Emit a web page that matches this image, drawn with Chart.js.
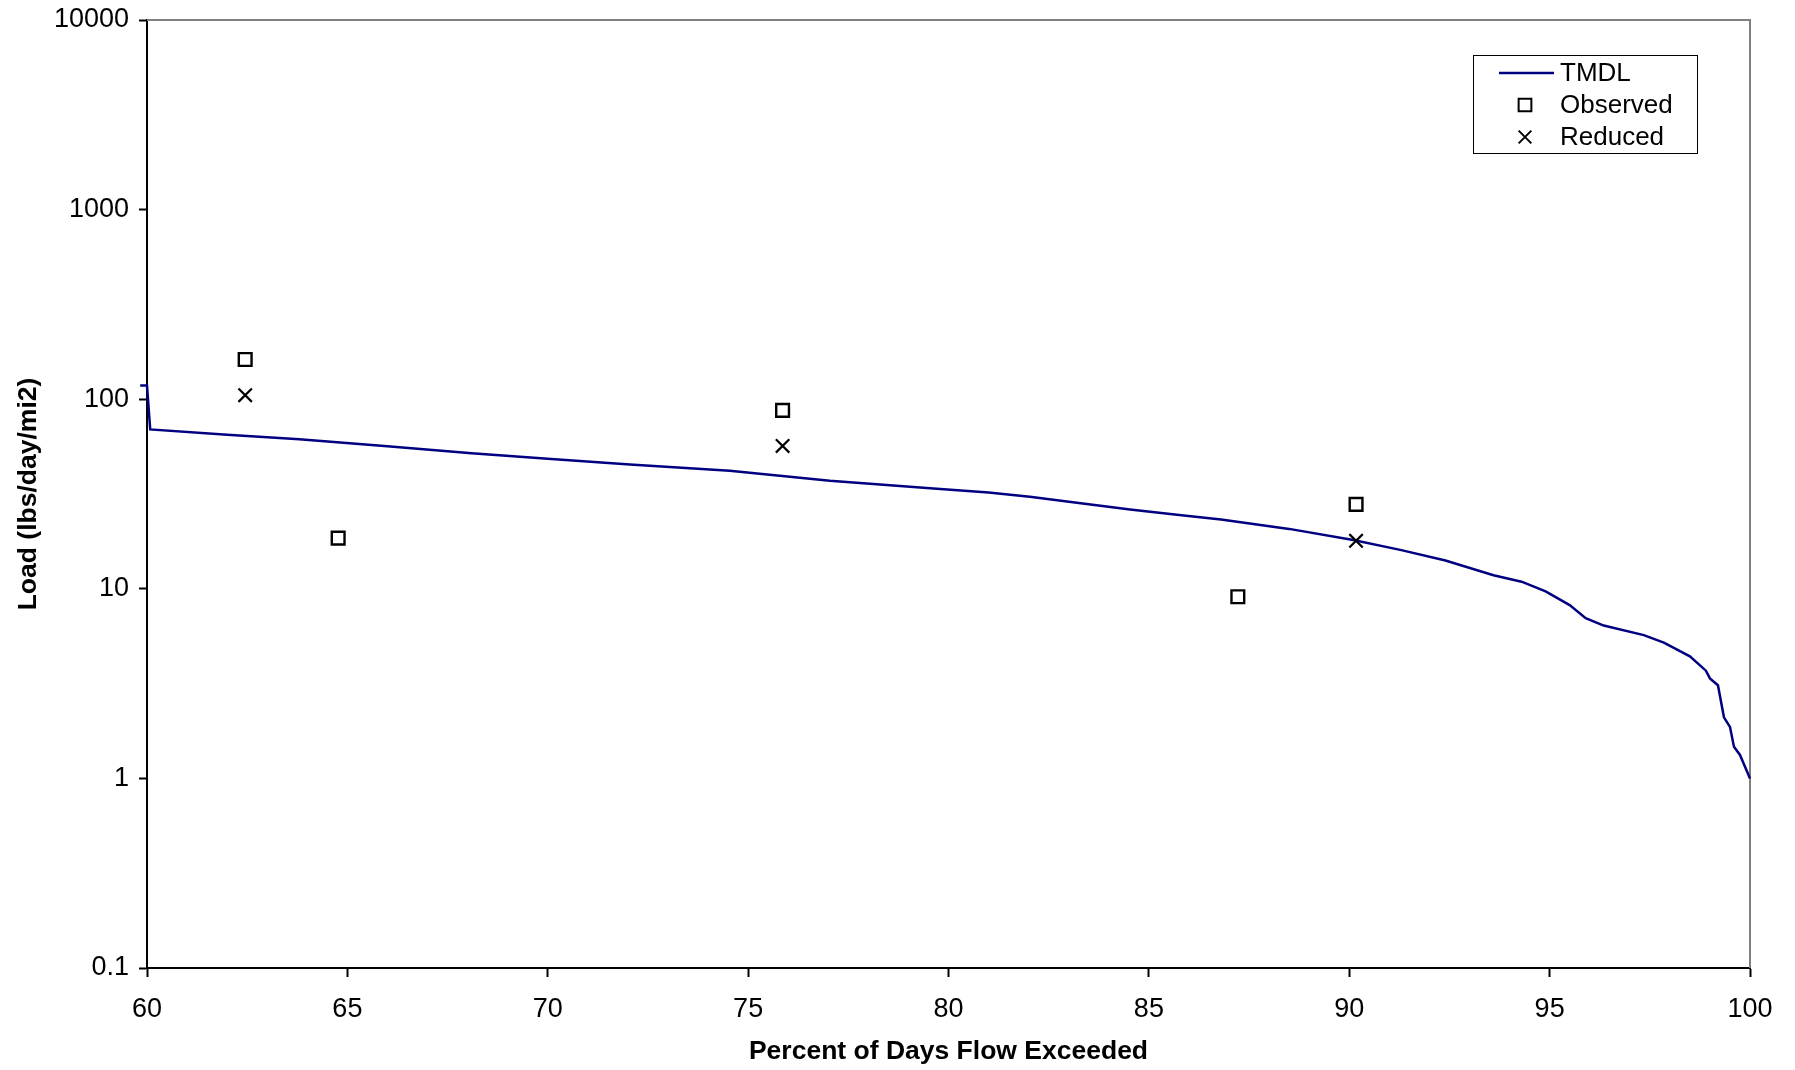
<!DOCTYPE html>
<html>
<head>
<meta charset="utf-8">
<script src="https://cdn.jsdelivr.net/npm/chart.js@4"></script>
<style>
html,body{margin:0;padding:0;background:#fff;}
#wrap{width:1795px;height:1070px;}
</style>
</head>
<body>
<div id="wrap"><canvas id="c" width="1795" height="1070"></canvas></div>
<script>
// ---- data ----
const tmdlX = [59.83, 60.0, 60.08, 62, 63.8, 66, 68.1, 70, 72.05, 74.54, 77.04, 79.54, 81.0, 82.03, 83.3, 84.53, 85.7, 86.8, 88.5, 90.1, 91.3, 92.4, 93.6, 94.3, 94.9, 95.5, 95.9, 96.35, 97.35, 97.85, 98.5, 98.9, 99.0, 99.2, 99.35, 99.5, 99.6, 99.75, 100];
const tmdlY = [118, 118, 69.3, 65, 61.4, 56.5, 51.8, 48.5, 45.3, 41.9, 37.1, 33.9, 32.2, 30.6, 28.3, 26.2, 24.6, 23.2, 20.7, 18.1, 16.0, 14.1, 11.8, 10.9, 9.7, 8.2, 7.0, 6.4, 5.7, 5.2, 4.4, 3.7, 3.37, 3.1, 2.1, 1.87, 1.47, 1.33, 1.0];
const observedX = [62.45, 64.77, 75.86, 87.22, 90.17];
const observedY = [162, 18.5, 87.3, 9.08, 27.9];
const reducedX = [62.45, 75.86, 90.17];
const reducedY = [105, 56.7, 17.9];
const yTickValues = [0.1, 1, 10, 100, 1000, 10000];
const seriesNames = ['TMDL', 'Observed', 'Reduced'];
const xTitle = 'Percent of Days Flow Exceeded';
const yTitle = 'Load (lbs/day/mi2)';

const FONT = '"Liberation Sans", Arial, sans-serif';
const toPts = (xs, ys) => xs.map((x, i) => ({x: x, y: ys[i]}));

const frame = {
  id: 'frame',
  beforeDatasetsDraw(chart) {
    const {ctx, chartArea: a} = chart;
    ctx.save();
    ctx.strokeStyle = '#808080';
    ctx.lineWidth = 2;
    ctx.beginPath();
    ctx.moveTo(a.left, a.top);
    ctx.lineTo(a.right, a.top);
    ctx.lineTo(a.right, a.bottom);
    ctx.stroke();
    ctx.restore();
  }
};

const legendBox = {
  id: 'legendBox',
  afterDraw(chart) {
    const {ctx} = chart;
    const ds = chart.data.datasets;
    const bx = 1473, by = 55, bw = 224, bh = 98;
    ctx.save();
    ctx.fillStyle = '#fff';
    ctx.fillRect(bx, by, bw, bh);
    ctx.strokeStyle = '#000';
    ctx.lineWidth = 1;
    ctx.strokeRect(bx + 0.5, by + 0.5, bw, bh);
    const rows = [73, 105, 137];
    const mx = 1525;
    ds.forEach((d, i) => {
      const y = rows[i];
      if (d.showLine) {
        ctx.strokeStyle = d.borderColor;
        ctx.lineWidth = 2.5;
        ctx.beginPath();
        ctx.moveTo(1499, y);
        ctx.lineTo(1554, y);
        ctx.stroke();
      } else {
        ctx.fillStyle = 'rgba(255,255,255,0)';
        ctx.strokeStyle = '#000';
        ctx.lineWidth = 2;
        Chart.helpers.drawPoint(ctx, {pointStyle: d.pointStyle, radius: 9, borderWidth: 2}, mx, y);
      }
      ctx.fillStyle = '#000';
      ctx.font = '26px ' + FONT;
      ctx.textBaseline = 'middle';
      ctx.textAlign = 'left';
      ctx.fillText(d.label, 1560, y + 1);
    });
    ctx.restore();
  }
};

new Chart(document.getElementById('c'), {
  type: 'scatter',
  data: {
    datasets: [
      {label: seriesNames[0], data: toPts(tmdlX, tmdlY), showLine: true, pointRadius: 0, borderColor: '#000080', backgroundColor: '#000080', borderWidth: 2.5, tension: 0, order: 3, clip: false},
      {label: seriesNames[1], data: toPts(observedX, observedY), showLine: false, pointStyle: 'rect', pointRadius: 9, pointBorderWidth: 2.4, borderColor: '#000', backgroundColor: 'rgba(255,255,255,0)', order: 1},
      {label: seriesNames[2], data: toPts(reducedX, reducedY), showLine: false, pointStyle: 'crossRot', pointRadius: 9.5, pointBorderWidth: 2.2, borderColor: '#000', backgroundColor: '#000', order: 2}
    ]
  },
  options: {
    responsive: false,
    animation: false,
    layout: {padding: {left: 0, top: 20, right: 45, bottom: 0}},
    plugins: {legend: {display: false}, tooltip: {enabled: false}},
    scales: {
      x: {
        type: 'linear', min: 60, max: 100,
        ticks: {stepSize: 5, color: '#000', font: {family: FONT, size: 27}, padding: 16, maxRotation: 0},
        grid: {display: true, drawOnChartArea: false, drawTicks: true, tickLength: 9, color: '#000', tickWidth: 2},
        border: {display: true, color: '#000', width: 2},
        title: {display: true, text: xTitle, color: '#000', font: {family: FONT, size: 26.5, weight: 'bold'}, padding: {top: 0, bottom: 2}},
        afterFit(s) { s.height = 102; s.paddingLeft = 0; s.paddingRight = 0; }
      },
      y: {
        type: 'logarithmic', min: 0.1, max: 10000,
        afterBuildTicks(s) { s.ticks = yTickValues.map(v => ({value: v})); },
        ticks: {color: '#000', font: {family: FONT, size: 27}, padding: 10, callback: v => String(v)},
        grid: {display: true, drawOnChartArea: false, drawTicks: true, tickLength: 8, color: '#000', tickWidth: 2},
        border: {display: true, color: '#000', width: 2},
        title: {display: true, text: yTitle, color: '#000', font: {family: FONT, size: 26.5, weight: 'bold'}, padding: {top: 13, bottom: 0}},
        afterFit(s) { s.width = 147; s.paddingTop = 0; s.paddingBottom = 0; }
      }
    }
  },
  plugins: [frame, legendBox]
});
</script>
</body>
</html>
